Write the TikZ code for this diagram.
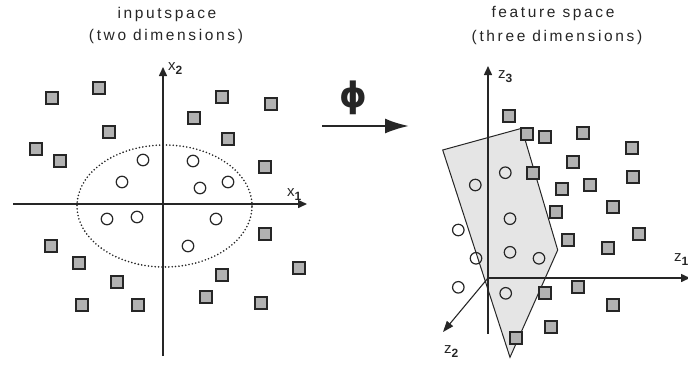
\documentclass[tikz,border=0pt]{standalone}
\usepackage{fontspec}
\setmainfont{Liberation Sans}
\newfontfamily\symfont{DejaVu Sans}
\usetikzlibrary{arrows.meta,shapes.geometric}
\definecolor{boxgray}{gray}{0.7}
\definecolor{planegray}{gray}{0.9}
\definecolor{ink}{gray}{0.15}

\begin{document}
\begin{tikzpicture}[x=1pt,y=-1pt,
  sq/.style={draw=ink,line width=1.8pt,fill=boxgray,minimum size=12pt,inner sep=0pt},
  ring/.style={circle,draw=ink,line width=1.2pt,minimum size=11.5pt,inner sep=0pt},
  axis/.style={line width=1.5pt,draw=ink,-{Triangle[length=9pt,width=8pt]}},
  title/.style={font=\fontsize{15.5}{18}\selectfont\addfontfeature{LetterSpace=17},inner sep=0pt,text=ink},
  lbl/.style={font=\fontsize{15}{16}\selectfont,inner sep=0pt,anchor=base west,text=ink}]

\useasboundingbox (0,0) rectangle (688,365);
\clip (0,0) rectangle (688,365);

% ---------- input space ----------
\node[title] (t1a) at (167,14) {inputspace};
\node[title] (t1b) at (166,36) {(two dimensions)};

\coordinate (xl) at (13,204);
\coordinate (xr) at (307,204);
\coordinate (yb) at (163,356);
\coordinate (yt) at (163,67);
\draw[axis] (xl) -- (xr);
\draw[axis] (yb) -- (yt);
\node[lbl] (lx1) at (287,196) {x\raisebox{-4pt}{\fontsize{12}{12}\selectfont\bfseries 1}};
\node[lbl] (lx2) at (168,70) {x\raisebox{-4pt}{\fontsize{12}{12}\selectfont\bfseries 2}};

\node[ellipse,draw=ink,line width=1.8pt,line cap=round,dash pattern=on 0pt off 3.4pt,
      minimum width=175pt,minimum height=122pt,inner sep=0pt] (border) at (164.5,206) {};

\foreach \x/\y [count=\i] in {52/98,99/88,109/132,36/149,60/161,222/97,271/104,194/118,
    228/139,265/167,265/234,299/268,222/275,206/297,261/303,51/246,79/263,117/282,82/305,138/305}
  \node[sq] (a\i) at (\x,\y) {};

\foreach \x/\y [count=\i] in {143/160,193/161,122/182,200/188,228/182,107/219,137/217,216/219,188/246}
  \node[ring] (b\i) at (\x,\y) {};

% ---------- mapping ----------
\node[font=\symfont\bfseries\fontsize{35}{36}\selectfont,inner sep=0pt,text=ink] (phi) at (353,98) {ϕ};
\coordinate (ms) at (322,126);
\coordinate (me) at (409,126);
\draw[line width=2.2pt,draw=ink,-{Latex[length=24pt,width=15pt]}] (ms) -- (me);

% ---------- feature space ----------
\node[title] (t2a) at (553,13) {feature space};
\node[title] (t2b) at (557,37) {(three dimensions)};

\coordinate (p1) at (442.7,150);
\coordinate (p2) at (521.7,128.3);
\coordinate (p3) at (557.7,250);
\coordinate (p4) at (510,357.3);
\draw[fill=planegray,draw=ink,line width=1pt] (p1) -- (p2) -- (p3) -- (p4) -- cycle;

\coordinate (o) at (488,278);
\coordinate (z3b) at (488,334);
\coordinate (z3t) at (488,66);
\coordinate (z1e) at (690,278);
\coordinate (z2e) at (443,332);
\draw[line width=1.4pt,draw=ink] (o) -- (z3b);
\draw[axis] (o) -- (z3t);
\draw[axis] (o) -- (z1e);
\draw[line width=1.1pt,draw=ink,-{Triangle[length=11pt,width=8pt]}] (o) -- (z2e);
\node[lbl] (lz3) at (498,78) {z\raisebox{-4pt}{\fontsize{12}{12}\selectfont\bfseries 3}};
\node[lbl] (lz2) at (444,353) {z\raisebox{-4pt}{\fontsize{12}{12}\selectfont\bfseries 2}};
\node[lbl] (lz1) at (674,261) {z\raisebox{-4pt}{\fontsize{12}{12}\selectfont\bfseries 1}};

\foreach \x/\y [count=\i] in {509.3/116,527.3/134,545.3/137.3,582.7/133.3,631.7/147.7,572.7/161.7,
    532.7/173.3,633.3/177.3,562.3/189,590/185,612.7/206.7,555.7/212.3,639.3/234.3,568.3/240,
    608/248.3,545.3/293.3,578.3/287.3,612.7/305,550.7/327.3,516/338.3}
  \node[sq] (c\i) at (\x,\y) {};

\foreach \x/\y [count=\i] in {505.3/172.7,475.3/185,510/218.7,458.3/230,510/252.3,476/258.3,
    539/258.3,458.3/287.3,505.7/293.3}
  \node[ring] (d\i) at (\x,\y) {};
\end{tikzpicture}
\end{document}
